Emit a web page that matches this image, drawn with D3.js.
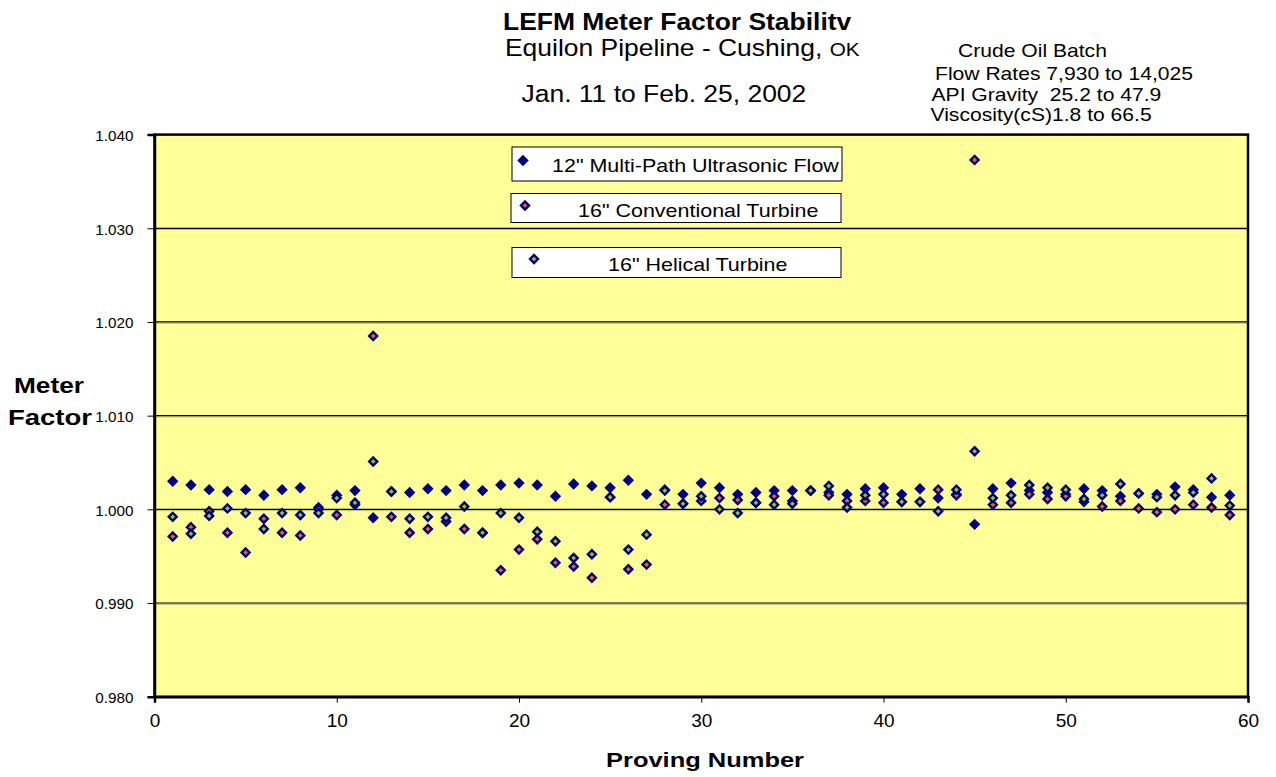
<!DOCTYPE html>
<html lang="en">
<head>
<meta charset="UTF-8">
<title>LEFM Meter Factor Stability</title>
<style>
    body { margin: 0; background: #fff; }
    svg { display: block; font-family: Arial, "Liberation Sans", sans-serif; }
    .grid line { stroke: #000; stroke-width: 1.2px; }
    .axis text { fill: #000; }
</style>
</head>
<body>
<svg id="chart" width="1276" height="777"></svg>

<script src="https://d3js.org/d3.v7.min.js"></script>
<script>
// proving number 1..59
const proving = [1,2,3,4,5,6,7,8,9,10,11,12,13,14,15,16,17,18,19,20,
    21,22,23,24,25,26,27,28,29,30,31,32,33,34,35,36,37,38,39,40,
    41,42,43,44,45,46,47,48,49,50,51,52,53,54,55,56,57,58,59];

// 12" Multi-Path Ultrasonic Flow
const ultrasonic = [1.0030,1.0026,1.0021,1.0019,1.0021,1.0015,1.0021,1.0023,1.0002,1.0015,
    1.0020,0.9991,1.0019,1.0018,1.0022,1.0020,1.0026,1.0020,1.0026,1.0028,
    1.0026,1.0014,1.0027,1.0025,1.0023,1.0031,1.0016,1.0021,1.0016,1.0028,
    1.0023,1.0016,1.0018,1.0020,1.0020,1.0020,1.0018,1.0016,1.0022,1.0023,
    1.0016,1.0022,1.0012,1.0016,0.9984,1.0022,1.0028,1.0020,1.0018,1.0016,
    1.0022,1.0020,1.0014,1.0017,1.0016,1.0024,1.0021,1.0013,1.0015];

// 16" Conventional Turbine
const conventional = [0.9971,0.9981,0.9998,0.9975,0.9954,0.9990,0.9975,0.9972,1.0000,0.9994,
    1.0005,1.0185,0.9992,0.9975,0.9979,0.9987,0.9979,0.9975,0.9935,0.9957,
    0.9968,0.9943,0.9939,0.9927,1.0013,0.9936,0.9941,1.0005,1.0006,1.0009,
    1.0012,1.0010,1.0007,1.0014,1.0009,1.0020,1.0015,1.0009,1.0009,1.0007,
    1.0008,1.0008,1.0021,1.0015,1.0373,1.0005,1.0007,1.0016,1.0011,1.0014,
    1.0008,1.0003,1.0009,1.0001,0.9997,1.0000,1.0005,1.0002,0.9994];

// 16" Helical Turbine
const helical = [0.9992,0.9974,0.9993,1.0001,0.9996,0.9979,0.9996,0.9994,0.9996,1.0012,
    1.0007,1.0051,1.0019,0.9990,0.9992,0.9991,1.0003,0.9975,0.9996,0.9991,
    0.9976,0.9966,0.9948,0.9952,1.0013,0.9957,0.9973,1.0020,1.0006,1.0014,
    1.0000,0.9996,1.0007,1.0005,1.0006,1.0020,1.0025,1.0002,1.0015,1.0016,
    1.0008,1.0008,0.9998,1.0021,1.0062,1.0012,1.0015,1.0026,1.0023,1.0021,
    1.0011,1.0015,1.0027,1.0017,1.0013,1.0015,1.0018,1.0033,1.0004];

const seriesNames = ['12" Multi-Path Ultrasonic Flow', '16" Conventional Turbine', '16" Helical Turbine'];
const seriesFill = ['#000080', '#FF6600', '#99CC00'];
const xTicks = [0, 10, 20, 30, 40, 50, 60];
const yTicks = [0.980, 0.990, 1.000, 1.010, 1.020, 1.030, 1.040];

const svg = d3.select('#chart');
const plot = {left: 154.5, right: 1248, top: 134.6, bottom: 696.7};

const x = d3.scaleLinear().domain([0, 60]).range([plot.left, plot.right]);
const y = d3.scaleLinear().domain([0.980, 1.040]).range([plot.bottom, plot.top]);

// the original text is a little wider than plain Arial, stretch it
function widen(sel, k) {
    sel.each(function() {
        const w = this.getComputedTextLength();
        d3.select(this).attr('textLength', w * k).attr('lengthAdjust', 'spacingAndGlyphs');
    });
    return sel;
}

// plot background
svg.append('rect')
    .attr('x', plot.left).attr('y', plot.top)
    .attr('width', plot.right - plot.left).attr('height', plot.bottom - plot.top)
    .attr('fill', '#FFFF99');

// gridlines (dark line with a faint shadow under it)
const inner = yTicks.filter(d => d > 0.980 && d < 1.040);
svg.append('g')
    .selectAll('line')
    .data(inner)
    .enter().append('line')
    .attr('x1', plot.left).attr('x2', plot.right)
    .attr('y1', d => y(d) + 1.3).attr('y2', d => y(d) + 1.3)
    .attr('stroke', '#b8b890').attr('stroke-width', 1);
svg.append('g').attr('class', 'grid')
    .selectAll('line')
    .data(inner)
    .enter().append('line')
    .attr('x1', plot.left).attr('x2', plot.right)
    .attr('y1', d => y(d)).attr('y2', d => y(d));

// border
svg.append('rect')
    .attr('x', plot.left).attr('y', plot.top)
    .attr('width', plot.right - plot.left).attr('height', plot.bottom - plot.top)
    .attr('fill', 'none').attr('stroke', '#000').attr('stroke-width', 2.5);

// axes
const yAxis = svg.append('g').attr('class', 'axis')
    .attr('transform', `translate(${plot.left},0)`)
    .call(d3.axisLeft(y).tickValues(yTicks).tickFormat(d3.format('.3f')).tickSize(7).tickPadding(14));
yAxis.select('.domain').attr('stroke-width', 2.5);
yAxis.selectAll('text').attr('font-size', 14).attr('font-family', 'Arial, "Liberation Sans", sans-serif')
    .attr('dy', '0.42em');
widen(yAxis.selectAll('text'), 1.09);

const xAxis = svg.append('g').attr('class', 'axis')
    .attr('transform', `translate(0,${plot.bottom})`)
    .call(d3.axisBottom(x).tickValues(xTicks).tickFormat(d3.format('d')).tickSize(6).tickPadding(11));
xAxis.select('.domain').attr('stroke-width', 2.5);
xAxis.selectAll('text').attr('font-size', 19).attr('font-family', 'Arial, "Liberation Sans", sans-serif');

// diamond marker
const diamond = d3.symbol(d3.symbolSquare, 32);

function drawMarker(g, px, py, i) {
    g.append('path')
        .attr('d', diamond())
        .attr('transform', `translate(${px},${py}) rotate(45)`)
        .attr('fill', seriesFill[i])
        .attr('stroke', '#000080')
        .attr('stroke-width', 2.4);
}

const seriesValues = [ultrasonic, conventional, helical];
seriesValues.forEach((vals, i) => {
    const g = svg.append('g');
    proving.forEach((p, k) => drawMarker(g, x(p), y(vals[k]), i));
});

// legend boxes
const legendBoxes = [
    {x: 512, y: 147, w: 330, h: 34, mx: 523, my: 160.5, tx: 552, ty: 172},
    {x: 511, y: 193.5, w: 330, h: 29, mx: 525, my: 205.5, tx: 578, ty: 217},
    {x: 512, y: 247.5, w: 329, h: 30, mx: 534, my: 259, tx: 608, ty: 271}
];
legendBoxes.forEach((b, i) => {
    const g = svg.append('g');
    g.append('rect')
        .attr('x', b.x).attr('y', b.y).attr('width', b.w).attr('height', b.h)
        .attr('fill', '#fff').attr('stroke', '#000').attr('stroke-width', 1);
    drawMarker(g, b.mx, b.my, i);
    const t = g.append('text')
        .attr('x', b.tx).attr('y', b.ty)
        .attr('font-size', 19)
        .text(seriesNames[i]);
    widen(t, 1.13);
});

// titles
widen(svg.append('text').attr('x', 503).attr('y', 30)
    .attr('font-size', 23).attr('font-weight', 'bold')
    .text('LEFM Meter Factor Stabilitv'), 1.15);
const sub = svg.append('text').attr('x', 505).attr('y', 56.5)
    .attr('font-size', 23)
    .attr('transform', 'translate(505,0) scale(1.15,1) translate(-505,0)');
sub.append('tspan').text('Equilon Pipeline - Cushing, ');
sub.append('tspan').attr('font-size', 18).text('OK');
widen(svg.append('text').attr('x', 521.5).attr('y', 101.5).attr('font-size', 23)
    .text('Jan. 11 to Feb. 25, 2002'), 1.15);

const notes = [
    {t: 'Crude Oil Batch', x: 958, y: 56.5},
    {t: 'Flow Rates 7,930 to 14,025', x: 935, y: 80},
    {t: 'API Gravity  25.2 to 47.9', x: 931.5, y: 100.5},
    {t: 'Viscosity(cS)1.8 to 66.5', x: 930.5, y: 121}
];
widen(svg.append('g').selectAll('text').data(notes).enter().append('text')
    .attr('x', d => d.x).attr('y', d => d.y)
    .attr('font-size', 18.5)
    .attr('xml:space', 'preserve')
    .style('white-space', 'pre')
    .text(d => d.t), 1.14);

// axis titles
svg.append('text').attr('x', 705).attr('y', 767)
    .attr('text-anchor', 'middle').attr('font-size', 21).attr('font-weight', 'bold')
    .attr('textLength', 198).attr('lengthAdjust', 'spacingAndGlyphs')
    .text('Proving Number');
svg.append('text').attr('x', 14).attr('y', 393)
    .attr('font-size', 22).attr('font-weight', 'bold')
    .attr('textLength', 70).attr('lengthAdjust', 'spacingAndGlyphs')
    .text('Meter');
svg.append('text').attr('x', 8).attr('y', 425)
    .attr('font-size', 22).attr('font-weight', 'bold')
    .attr('textLength', 84).attr('lengthAdjust', 'spacingAndGlyphs')
    .text('Factor');
</script>
</body>
</html>
